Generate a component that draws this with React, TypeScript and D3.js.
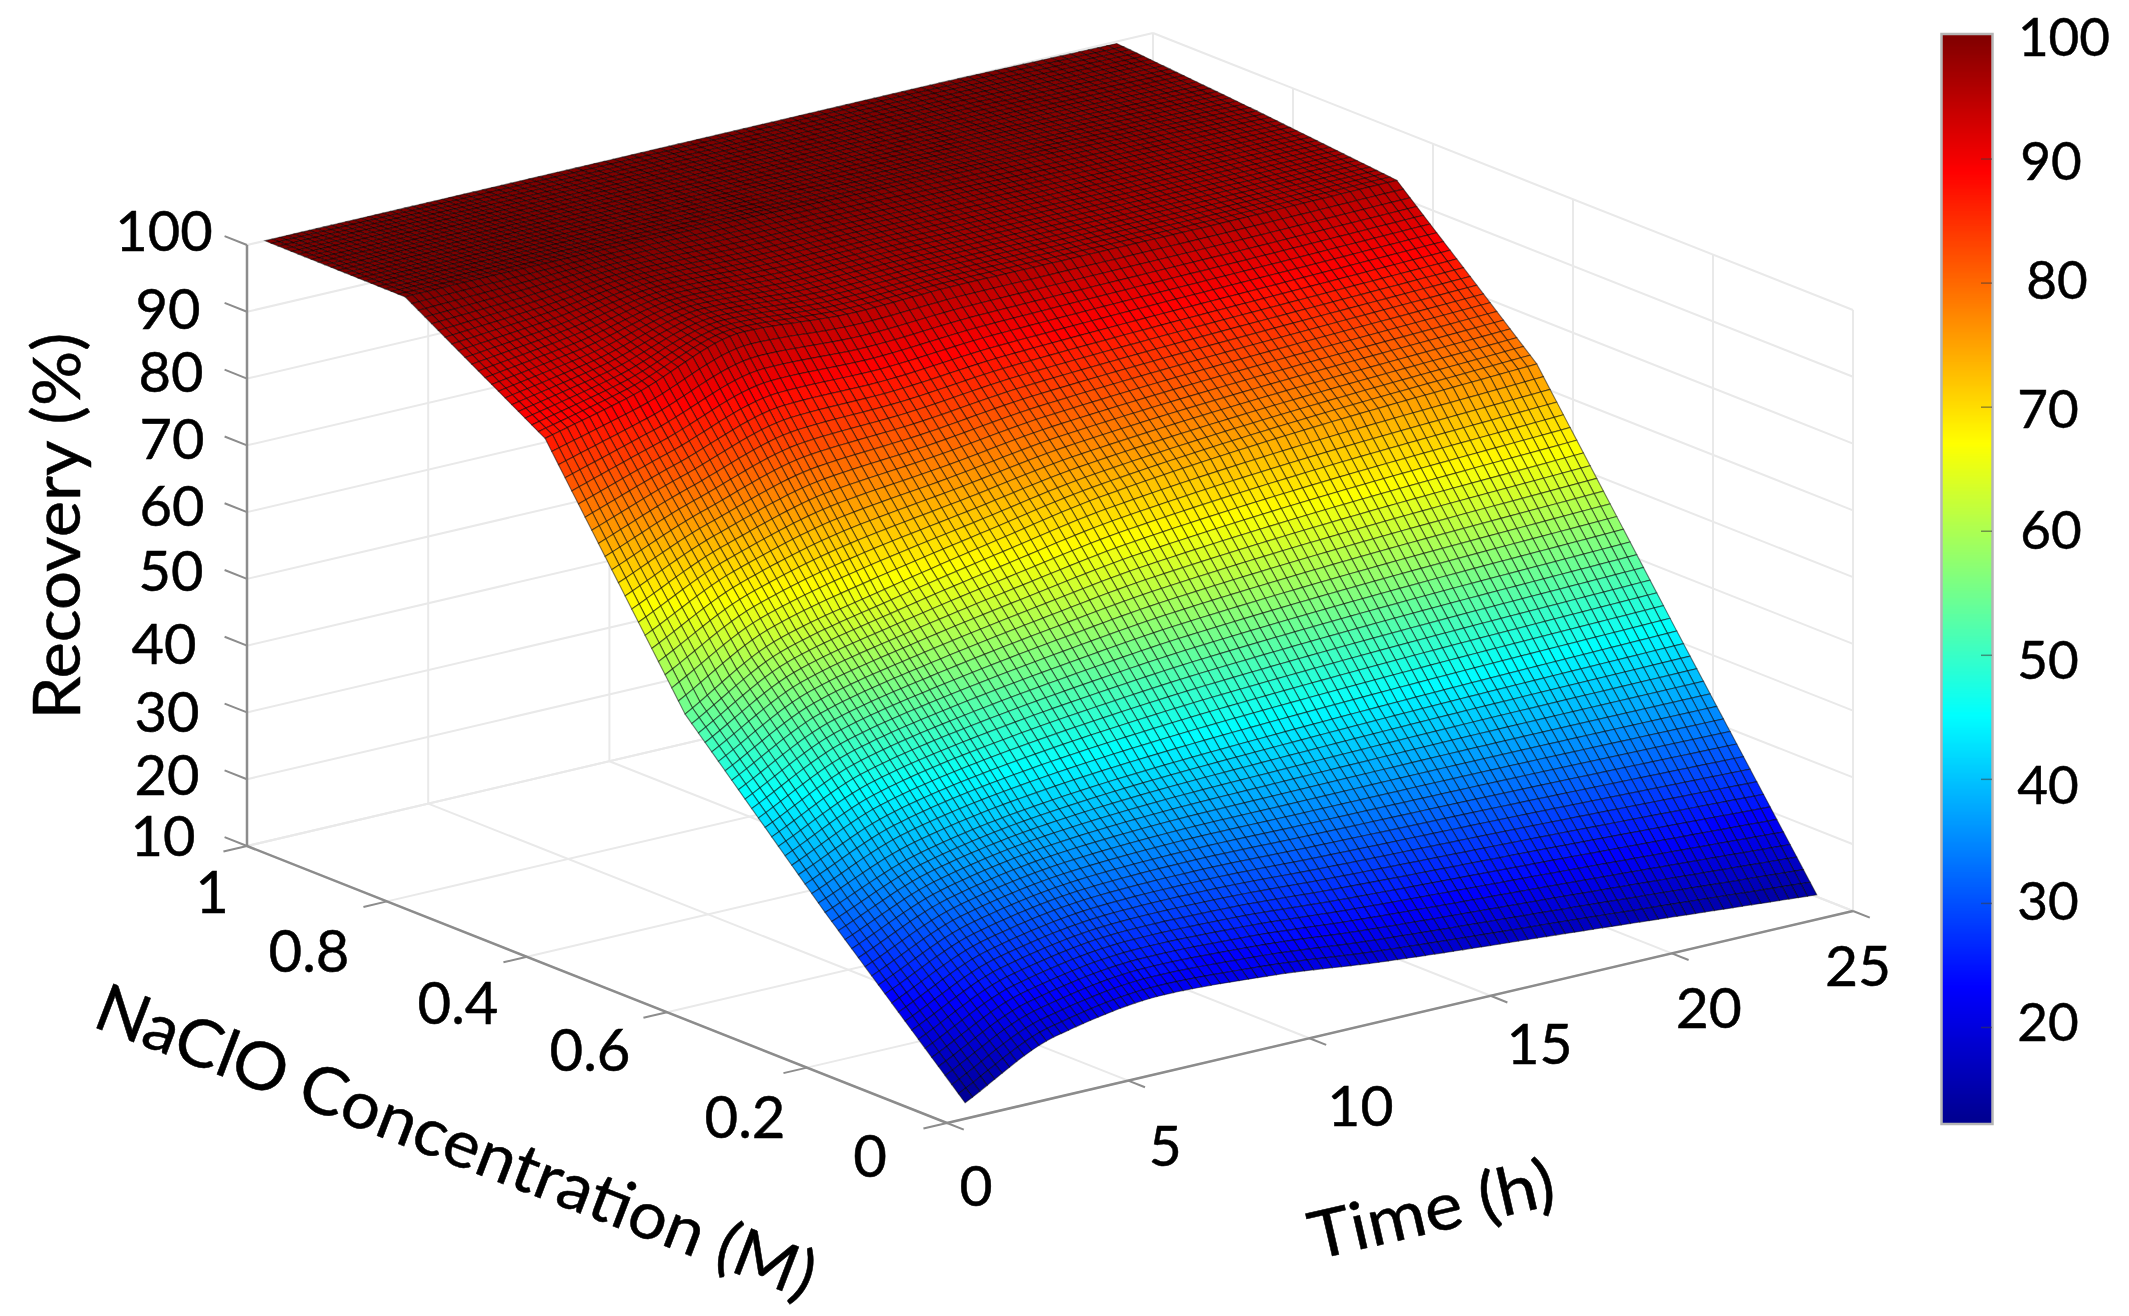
import React, { useRef, useEffect } from "react";
import * as d3 from "d3";

// values, one array per NaClO concentration knot
const timeKnots = [0.5, 3, 6, 9, 12, 18, 24];
const concKnots = [0, 0.2, 0.4, 0.6, 0.8, 1];
const recoveryC00 = [12.4, 19.2, 21.6, 20.7, 18.9, 16.3, 13.7];
const recoveryC02 = [32.6, 38, 41, 42.5, 43.3, 44.3, 44.9];
const recoveryC04 = [54, 61.8, 65.7, 69, 72, 75, 76.6];
const recoveryC06 = [87, 90.5, 96, 95, 95.5, 95.5, 95.8];
const recoveryC08 = [99.9, 100, 100, 99.8, 99.5, 98.8, 97.9];
const recoveryC10 = [100, 100, 100, 100, 100, 100, 99.7];
const recoveryRows = [recoveryC00, recoveryC02, recoveryC04, recoveryC06, recoveryC08, recoveryC10];

const zTicks = [10, 20, 30, 40, 50, 60, 70, 80, 90, 100];
const timeTicks = [0, 5, 10, 15, 20, 25];
const concTicks = [0, 0.2, 0.4, 0.6, 0.8, 1];
// the source figure really prints 0.6 and 0.4 in this order
const concTickLabels = ["0", "0.2", "0.6", "0.4", "0.8", "1"];
const barTicks = [20, 30, 40, 50, 60, 70, 80, 90, 100];

// the labels in the figure were placed by hand, so each has its own offset
const zLabelOffset = [[-84, -12], [-80, -6], [-80, -2], [-83, -3], [-76, -9], [-75, -8], [-75, -8], [-76, -8], [-79, -4], [-83, -16]];
const timeLabelOffset = [[29, 61], [37, 63], [51, 66], [49, 46], [37, 53], [5, 53]];
const concLabelOffset = [[-77, 31], [-62, 48], [-77, 36], [-69, 45], [-78, 48], [-35, 44]];
const barLabelX = [2048, 2048, 2048, 2048, 2051, 2048, 2057, 2051, 2064];
const barLabelDy = [-7, -4, 4, 3, -3, 0, -5, 0, 0];

const jetStops = [
  [0, "#00008f"],
  [0.125, "#0000ff"],
  [0.375, "#00ffff"],
  [0.625, "#ffff00"],
  [0.875, "#ff0000"],
  [1, "#800000"],
];

// mesh is finer in time up to 6 h, as in the figure
const meshTimeBreaks = [0, 27, 97];
const meshRows = 105;
const font = "Lato, 'Open Sans', sans-serif";

// monotone cubic through the time knots, used only to refine the mesh
function monotone(xs, ys, x) {
  const n = xs.length;
  const h = d3.range(n - 1).map((i) => xs[i + 1] - xs[i]);
  const s = h.map((d, i) => (ys[i + 1] - ys[i]) / d);
  const m = xs.map((_, i) => {
    if (i === 0) return s[0];
    if (i === n - 1) return s[n - 2];
    if (s[i - 1] * s[i] <= 0) return 0;
    const w1 = 2 * h[i] + h[i - 1];
    const w2 = h[i] + 2 * h[i - 1];
    return (w1 + w2) / (w1 / s[i - 1] + w2 / s[i]);
  });
  const i = Math.min(n - 2, Math.max(0, d3.bisectRight(xs, x) - 1));
  const u = (x - xs[i]) / h[i];
  const a = (1 + 2 * u) * (1 - u) * (1 - u);
  const b = u * (1 - u) * (1 - u);
  const c = u * u * (3 - 2 * u);
  const e = u * u * (u - 1);
  return a * ys[i] + b * h[i] * m[i] + c * ys[i + 1] + e * h[i] * m[i + 1];
}

function recoveryAt(t, c) {
  const j = Math.min(concKnots.length - 2, Math.max(0, d3.bisectRight(concKnots, c) - 1));
  const low = monotone(timeKnots, recoveryRows[j], t);
  const high = monotone(timeKnots, recoveryRows[j + 1], t);
  return low + ((high - low) * (c - concKnots[j])) / (concKnots[j + 1] - concKnots[j]);
}

const App = () => {
  const ref = useRef(null);

  useEffect(() => {
    const svg = d3.select(ref.current);
    svg.selectAll("*").remove();

    // axes of the oblique 3D view
    const origin = [947, 1123];
    const tx = d3.scaleLinear().domain([0, 25]).range([0, 906]);
    const ty = d3.scaleLinear().domain([0, 25]).range([0, -212]);
    const cx = d3.scaleLinear().domain([0, 1]).range([0, -700]);
    const cy = d3.scaleLinear().domain([0, 1]).range([0, -277]);
    const zy = d3.scaleLinear().domain([10, 100]).range([0, -601]);
    const project = (t, c, z) => [origin[0] + tx(t) + cx(c), origin[1] + ty(t) + cy(c) + zy(z)];

    const color = d3
      .scaleLinear()
      .domain(jetStops.map((d) => 12.3 + d[0] * (100 - 12.3)))
      .range(jetStops.map((d) => d[1]))
      .interpolate(d3.interpolateRgb)
      .clamp(true);

    const line = (a, b, stroke, width) =>
      svg
        .append("line")
        .attr("x1", a[0])
        .attr("y1", a[1])
        .attr("x2", b[0])
        .attr("y2", b[1])
        .attr("stroke", stroke)
        .attr("stroke-width", width);

    const gridColor = "#e9e9e9";
    // floor and the two back walls
    timeTicks.forEach((t) => {
      line(project(t, 0, 10), project(t, 1, 10), gridColor, 2);
      line(project(t, 1, 10), project(t, 1, 100), gridColor, 2);
    });
    concTicks.forEach((c) => {
      line(project(0, c, 10), project(25, c, 10), gridColor, 2);
      line(project(25, c, 10), project(25, c, 100), gridColor, 2);
    });
    zTicks.forEach((z) => {
      line(project(0, 1, z), project(25, 1, z), gridColor, 2);
      line(project(25, 1, z), project(25, 0, z), gridColor, 2);
    });

    // axis lines and ticks
    const axisColor = "#8c8c8c";
    line(project(0, 1, 10), project(0, 1, 100), axisColor, 2.5);
    line(project(0, 1, 10), project(0, 0, 10), axisColor, 2.5);
    line(project(0, 0, 10), project(25, 0, 10), axisColor, 2.5);
    zTicks.forEach((z) => line(project(0, 1, z), project(0, 1.032, z), axisColor, 2));
    concTicks.forEach((c) => line(project(0, c, 10), project(-0.65, c, 10), axisColor, 2));
    timeTicks.forEach((t) => line(project(t, 0, 10), project(t, -0.024, 10), axisColor, 2));

    // surface, far cells first
    const defs = svg.append("defs");
    defs
      .append("filter")
      .attr("id", "soft")
      .attr("x", "-2%")
      .attr("y", "-2%")
      .attr("width", "104%")
      .attr("height", "104%")
      .append("feGaussianBlur")
      .attr("stdDeviation", 0.7);

    const meshCols = meshTimeBreaks[meshTimeBreaks.length - 1];
    const tMesh = d3.scaleLinear().domain(meshTimeBreaks).range([timeKnots[0], 6, timeKnots[timeKnots.length - 1]]);
    const cMesh = d3.scaleLinear().domain([0, meshRows]).range([0, 1]);
    const heights = d3.range(meshCols + 1).map((i) => d3.range(meshRows + 1).map((j) => recoveryAt(tMesh(i), cMesh(j))));

    const cells = [];
    for (let j = meshRows - 1; j >= 0; j--) {
      for (let i = meshCols - 1; i >= 0; i--) {
        const corners = [
          [i, j],
          [i + 1, j],
          [i + 1, j + 1],
          [i, j + 1],
        ];
        cells.push({
          points: corners.map(([a, b]) => project(tMesh(a), cMesh(b), heights[a][b])),
          value: d3.mean(corners, ([a, b]) => heights[a][b]),
        });
      }
    }

    svg
      .append("g")
      .attr("filter", "url(#soft)")
      .selectAll("path")
      .data(cells)
      .join("path")
      .attr("d", (d) => d3.line()(d.points) + "Z")
      .attr("fill", (d) => color(d.value))
      .attr("stroke", "#000")
      .attr("stroke-opacity", 0.5)
      .attr("stroke-width", 1.15);

    // colorbar
    const barY = d3.scaleLinear().domain([12.3, 100]).range([1123, 35]);
    const barValues = d3.range(12.3, 100, 0.1);
    svg
      .append("g")
      .selectAll("rect")
      .data(barValues)
      .join("rect")
      .attr("x", 1942)
      .attr("width", 50)
      .attr("y", (d) => barY(d + 0.1))
      .attr("height", (d) => barY(d) - barY(d + 0.1) + 1)
      .attr("fill", (d) => color(d));
    svg
      .append("rect")
      .attr("x", 1941.5)
      .attr("y", 34)
      .attr("width", 51)
      .attr("height", 1090)
      .attr("fill", "none")
      .attr("stroke", "#b5b5b5")
      .attr("stroke-width", 2.5);
    barTicks.forEach((v) => {
      if (v < 100) line([1981, barY(v)], [1992, barY(v)], "rgba(60,60,60,0.55)", 1.5);
    });

    // text
    const label = (x, y, text, size) =>
      svg
        .append("text")
        .attr("x", x)
        .attr("y", y)
        .attr("text-anchor", "middle")
        .attr("dominant-baseline", "central")
        .attr("font-family", font)
        .attr("font-size", size)
        .attr("stroke", "#000")
        .attr("stroke-width", 0.5)
        .attr("fill", "#000")
        .text(text);

    zTicks.forEach((z, i) => {
      const p = project(0, 1, z);
      label(p[0] + zLabelOffset[i][0], p[1] + zLabelOffset[i][1], String(z), 56);
    });
    timeTicks.forEach((t, i) => {
      const p = project(t, 0, 10);
      label(p[0] + timeLabelOffset[i][0], p[1] + timeLabelOffset[i][1], String(t), 57);
    });
    concTicks.forEach((c, i) => {
      const p = project(0, c, 10);
      label(p[0] + concLabelOffset[i][0], p[1] + concLabelOffset[i][1], concTickLabels[i], 58);
    });
    barTicks.forEach((v, i) => label(barLabelX[i], barY(v) + barLabelDy[i], String(v), 53));

    const title = (x, y, transform, width, text) =>
      svg
        .append("text")
        .attr("transform", `translate(${x},${y}) ${transform}`)
        .attr("text-anchor", "middle")
        .attr("dominant-baseline", "central")
        .attr("font-family", font)
        .attr("font-size", 66)
        .attr("textLength", width)
        .attr("lengthAdjust", "spacingAndGlyphs")
        .attr("stroke", "#000")
        .attr("stroke-width", 0.5)
        .attr("fill", "#000")
        .text(text);

    title(54, 526, "rotate(-90)", 387, "Recovery (%)");
    title(457, 1139, "rotate(21)", 765, "NaClO Concentration (M)");
    title(1431, 1207, "rotate(-13)", 250, "Time (h)");
  }, []);

  return (
    <svg
      ref={ref}
      width={2129}
      height={1316}
      style={{ position: "absolute", left: 0, top: 0, background: "#fff" }}
    />
  );
};

export default App;
